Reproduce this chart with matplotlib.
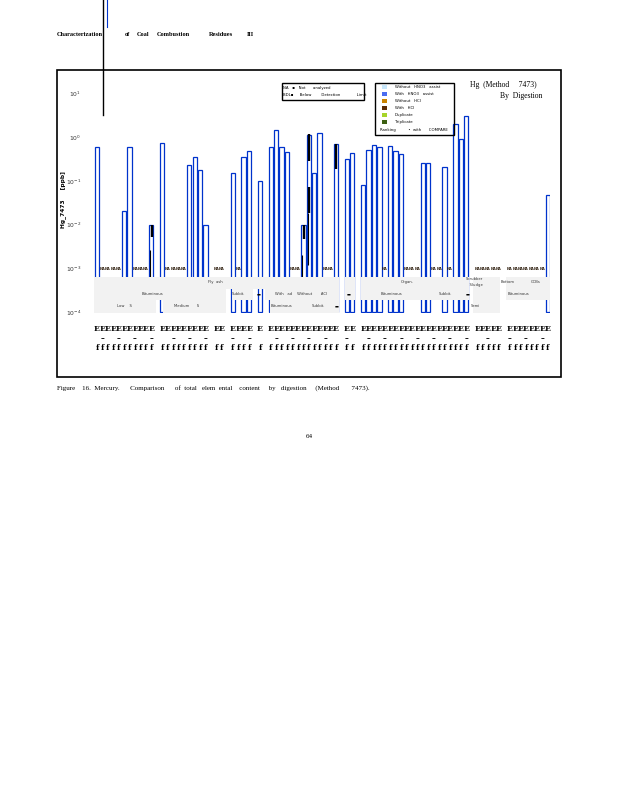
"""Hg (Method 7473) by digestion - log bar chart on a report page."""

import matplotlib
matplotlib.use("Agg")
import matplotlib.pyplot as plt
import numpy as np
from matplotlib.patches import Rectangle
from matplotlib.lines import Line2D
from matplotlib.ticker import FixedLocator, LogFormatterMathtext

# ---- data -------------------------------------------------------------
n_slots = 84
bar_slots = [0, 5, 6, 10, 12, 17, 18, 19, 20, 25, 27, 28, 30, 32, 33, 34, 35,
             38, 39, 40, 41, 44, 46, 47, 49, 50, 51, 52, 54, 55, 56, 60, 61,
             64, 66, 67, 68, 83]
hg_ppb = [0.58, 0.021, 0.58, 0.01, 0.73, 0.23, 0.35, 0.18, 0.01, 0.15, 0.35,
          0.48, 0.10, 0.58, 1.45, 0.58, 0.45, 0.01, 1.10, 0.15, 1.23, 0.69,
          0.32, 0.44, 0.08, 0.50, 0.66, 0.59, 0.61, 0.47, 0.40, 0.25, 0.25,
          0.21, 2.0, 0.9, 3.0, 0.047]
na_slots = [1, 2, 3, 4, 7, 8, 9, 13, 14, 15, 16, 22, 23, 26, 36, 37, 42, 43,
            53, 57, 58, 59, 62, 63, 65, 70, 71, 72, 73, 74, 76, 77, 78, 79,
            80, 81, 82]

# dark (with HCl) segments drawn inside some bars
dark_slots = [10, 10, 38, 38, 39, 39, 39, 44]
dark_lo = [5.3e-3, 6.6e-4, 4.8e-3, 6.6e-4, 0.285, 0.018, 1.2e-3, 0.19]
dark_hi = [1.0e-2, 2.6e-3, 1.0e-2, 2.0e-3, 1.17, 0.073, 0.018, 0.69]
dark_thick = [True, False, True, False, True, True, False, True]

# category bands below the bars: (first slot edge, last slot edge, rows)
band_lo = [-0.5, -0.5, 24.8, 30.9, -0.5, 12.1, 31.8, 45.6, 48.6, 69.2, 75.3]
band_hi = [44.6, 23.7, 28.7, 44.6, 10.8, 23.7, 44.6, 47.6, 68.6, 74.3, 83.4]
band_rows = ["A", "B", "B", "B", "C", "C", "C", "AB", "AB", "ABC", "AB"]

band_text = ["Fly  ash", "Bituminous", "Subbit.", "With   ad    Without       ACI",
             "Low    S", "Medium      S", "Bituminous", "Subbit.", "Organ.",
             "Bituminous", "Subbit.", "Scrubber\n  Sludge", "Semi",
             "Bottom", "CCBs", "Bituminous"]
band_text_slot = [21.7, 10.3, 26.0, 37.6, 5.0, 16.5, 34.0, 40.8, 57.2, 54.3,
                  64.2, 69.5, 69.7, 75.6, 80.8, 77.6]
band_text_row = ["A", "B", "B", "B", "C", "C", "C", "C", "A", "B", "B", "A",
                 "C", "A", "A", "B"]
mark_slots = [29.7, 44.2, 46.4, 68.3]
mark_rows = ["B", "C", "B", "B"]

legend_rows = ["Without   HNO3   assist", "With   HNO3   assist",
               "Without   HCl", "With   HCl", "Duplicate", "Triplicate"]
legend_colors = ["#c6e6fa", "#4a6cf0", "#c98300", "#5a2c06", "#a6d42a",
                 "#3d6012"]

W, H = 618, 800
BLUE = "#0033cc"


def fx(x):
    return x / W


def fy(y):
    return 1 - y / H


fig = plt.figure(figsize=(W / 100, H / 100), dpi=100)
fig.patch.set_facecolor("white")

ax = fig.add_axes([fx(94.3), fy(312.5), 456.1 / W, 232.7 / H])
ax.set_yscale("log")
ax.set_xlim(-0.5, n_slots - 0.5)
ax.set_ylim(1e-4, 10 ** 1.3)
for s in ax.spines.values():
    s.set_visible(False)

base = 1e-4
ax.bar(bar_slots, np.array(hg_ppb) - base, bottom=base, width=0.8,
       facecolor="white", edgecolor=BLUE, linewidth=0.9, zorder=2)

for s, lo, hi, thick in zip(dark_slots, dark_lo, dark_hi, dark_thick):
    off = 0.05 if thick else -0.2
    ax.vlines(s + off, lo, hi, color="black", lw=1.7 if thick else 0.8,
              zorder=2.5)

for s in na_slots:
    ax.text(s, 1e-3, "NA", fontsize=2.5, fontweight="bold", ha="center",
            va="center", color="#2a1a0a", zorder=4)

# band rows in log data units
row_edges = {"A": (6.3e-4, 3.5e-4), "B": (3.5e-4, 1.9e-4), "C": (1.9e-4, 0.95e-4)}
row_mid = {"A": 4.9e-4, "B": 2.6e-4, "C": 1.4e-4}
for lo, hi, rows in zip(band_lo, band_hi, band_rows):
    top = row_edges[rows[0]][0]
    bot = row_edges[rows[-1]][1]
    ax.add_patch(Rectangle((lo, bot), hi - lo, top - bot, facecolor="#f2f2f2",
                           edgecolor="none", zorder=3))
for txt, s, r in zip(band_text, band_text_slot, band_text_row):
    ax.text(s, row_mid[r], txt, fontsize=2.7, ha="center", va="center",
            color="#333333", zorder=4, linespacing=1.6)
for s, r in zip(mark_slots, mark_rows):
    ax.text(s, row_mid[r], "\u25ac", fontsize=3, ha="center", va="center",
            color="black", zorder=4)

ax.yaxis.set_major_locator(FixedLocator([10.0 ** k for k in range(-4, 2)]))
ax.yaxis.set_major_formatter(LogFormatterMathtext())
ax.yaxis.set_minor_locator(FixedLocator([]))
ax.tick_params(axis="y", length=0, pad=9.5, labelsize=4.3, labelcolor="#333333")

filled = sorted(bar_slots + na_slots)
labels = ["E\n\u2013\nf" if i % 3 == 1 else "E\n\nf" for i in range(len(filled))]
ax.set_xticks(filled)
ax.set_xticklabels(labels, fontsize=5.5, fontweight="bold",
                   family="DejaVu Serif", linespacing=1.25)
ax.tick_params(axis="x", length=0, pad=9)

# outer chart frame
fig.add_artist(Rectangle((fx(57), fy(377)), fx(561) - fx(57), fy(70) - fy(377),
                         transform=fig.transFigure, fill=False,
                         edgecolor="black", lw=1.2))

# stray lines on the page
fig.add_artist(Line2D([fx(103), fx(103)], [fy(0), fy(115)],
                      transform=fig.transFigure, color="black", lw=1.0))
fig.add_artist(Line2D([fx(106.5), fx(106.5)], [fy(0), fy(27)],
                      transform=fig.transFigure, color=BLUE, lw=0.8))

serif = ["Liberation Serif", "DejaVu Serif"]

# chart title
fig.text(fx(470), fy(85), "Hg  (Method     7473)", fontsize=5.5,
         family=serif, va="center", ha="left")
fig.text(fx(500), fy(96), "By  Digestion", fontsize=5.5, family=serif,
         va="center", ha="left")

# legend 1
fig.add_artist(Rectangle((fx(281.5), fy(100)), fx(364) - fx(281.5),
                         fy(83) - fy(100), transform=fig.transFigure,
                         fill=False, edgecolor="black", lw=1.0))
fig.text(fx(283), fy(88), "NA   \u25aa   Not      analyzed", fontsize=2.8,
         va="center")
fig.text(fx(283), fy(95), "BDL\u25aa     Below        Detection             Limit",
         fontsize=2.8, va="center")

# legend 2
fig.add_artist(Rectangle((fx(375), fy(135)), fx(454) - fx(375),
                         fy(83) - fy(135), transform=fig.transFigure,
                         fill=False, edgecolor="black", lw=1.0))
for i, (lab, col) in enumerate(zip(legend_rows, legend_colors)):
    yy = 87 + i * 7
    fig.add_artist(Rectangle((fx(382), fy(yy + 2.2)), fx(386.5) - fx(382),
                             fy(yy - 2.2) - fy(yy + 2.2),
                             transform=fig.transFigure, facecolor=col,
                             edgecolor="none"))
    fig.text(fx(395), fy(yy), lab, fontsize=2.8, va="center")
fig.text(fx(380), fy(130), "Ranking          \u2022  with      COMPARE",
         fontsize=2.8, va="center")

# y label
fig.text(fx(63), fy(200), "Hg_7473     [ppb]", rotation=90, fontsize=4.2,
         fontweight="bold", ha="center", va="center")

# page text
fig.text(fx(57), fy(35), "Characterization", fontsize=4.6, fontweight="bold",
         family=serif, va="center")
for word, x in zip(["of", "Coal", "Combustion", "Residues", "III"],
                   [125, 137, 157, 209, 247]):
    fig.text(fx(x), fy(35), word, fontsize=4.6, fontweight="bold",
             family=serif, va="center")
fig.text(fx(57), fy(388),
         "Figure    16.  Mercury.      Comparison      of  total   elem  ental"
         "    content     by   digestion     (Method       7473).",
         fontsize=5.0, family=serif, va="center")
fig.text(fx(309), fy(436), "64", fontsize=5.0, family=serif, ha="center",
         va="center")

fig.savefig("out.png", dpi=100)
plt.close(fig)
